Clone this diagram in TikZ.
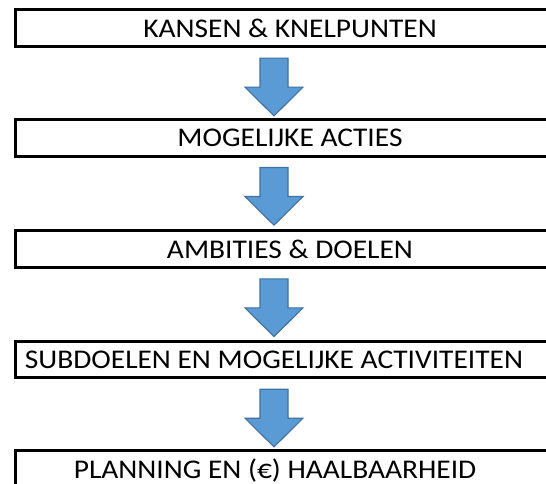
\documentclass[tikz,border=0pt]{standalone}
\usepackage{fontspec}
\setmainfont[FakeStretch=1.09]{Carlito}
\usetikzlibrary{calc}
\definecolor{arrowblue}{HTML}{5B9BD5}
\definecolor{arrowedge}{HTML}{41719C}
\tikzset{
  box/.style={draw=black, line width=3pt, rectangle, inner sep=0pt, outer sep=0pt,
    minimum width=600pt, minimum height=36.7pt, anchor=north west},
  lbl/.style={inner sep=0pt, outer sep=0pt, anchor=base, font=\fontsize{27}{32}\selectfont},
  flowarrow/.style={fill=arrowblue, draw=arrowedge, line width=1.1pt, line join=miter},
  downarrow/.pic={\path[flowarrow] (-14,0) -- (14,0) -- (14,29) -- (29,29) -- (0,57.7) -- (-29,29) -- (-14,29) -- cycle;}
}
\begin{document}
\begin{tikzpicture}[x=1pt,y=-1pt]
\useasboundingbox (0,0) rectangle (546,484);
\clip (0,0) rectangle (546,484);
\fill[white] (0,0) rectangle (546,484);
\coordinate (cx) at (274,0);
\coordinate (cw) at (290,0);
\node[box] (b1) at (15.5,10) {};
\node[box] (b2) at (15.5,119.3) {};
\node[box] (b3) at (15.5,230.7) {};
\node[box] (b4) at (15.5,341) {};
\node[box] (b5) at (15.5,450.7) {};
\node[lbl] (t1) at ($(b1.west -| cw)+(0,9)$) {KANSEN \& KNELPUNTEN};
\node[lbl] (t2) at ($(b2.west -| cw)+(0,9)$) {MOGELIJKE ACTIES};
\node[lbl] (t3) at ($(b3.west -| cw)+(0,9)$) {AMBITIES \& DOELEN};
\node[lbl] (t4) at ($(b4.west -| cx)+(0,9)$) {SUBDOELEN EN MOGELIJKE ACTIVITEITEN};
\node[lbl] (t5) at ($(b5.west -| cx)+(1,9)$) {PLANNING EN (€) HAALBAARHEID};
\pic at ($(b1.south west -| cx)+(0,11.5)$) {downarrow};
\pic at ($(b2.south west -| cx)+(0,11.5)$) {downarrow};
\pic at ($(b3.south west -| cx)+(0,11.5)$) {downarrow};
\pic at ($(b4.south west -| cx)+(0,11.5)$) {downarrow};
\end{tikzpicture}
\end{document}
